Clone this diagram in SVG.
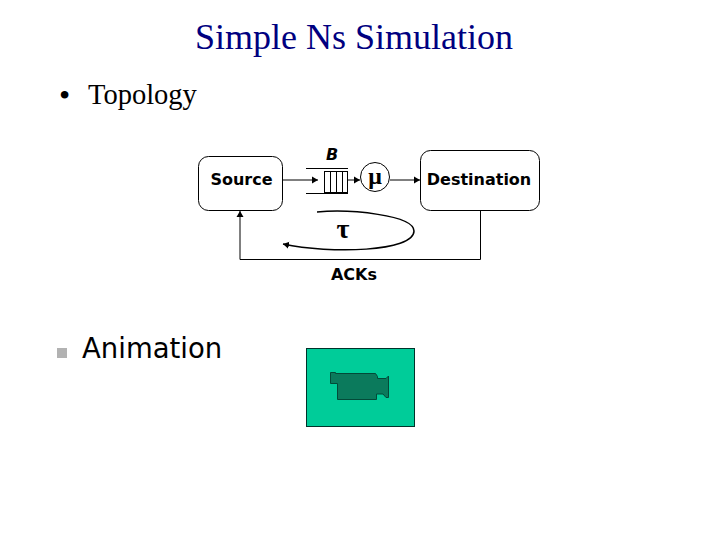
<svg xmlns="http://www.w3.org/2000/svg" width="720" height="540" viewBox="0 0 720 540">
<style>
.s{font-family:"Liberation Serif",serif}
.v{font-family:"DejaVu Sans",sans-serif}
.l{font-family:"DejaVu Sans",sans-serif;font-size:16px;font-weight:bold;fill:#000}
.w{fill:none;stroke:#000;stroke-width:1}
.n{fill:#fff;stroke:#000;stroke-width:1}
</style>
<defs>
<marker id="a" markerUnits="userSpaceOnUse" markerWidth="7" markerHeight="8" refX="6" refY="4" orient="auto"><path d="M0 0.500L6 4L0 7.500Z" fill="#000"/></marker>
</defs>
<rect width="720" height="540" fill="#fff"/>
<text class="s" x="354" y="49" font-size="36" fill="#000080" text-anchor="middle">Simple Ns Simulation</text>
<text class="s" x="59" y="106" font-size="32" fill="#000">•</text>
<text class="s" x="88" y="104" font-size="28.500" fill="#000">Topology</text>
<g id="connectors">
<path class="w" d="M283 180H318" marker-end="url(#a)"/>
<path class="w" d="M348 180H360" marker-end="url(#a)"/>
<path class="w" d="M390 180H420" marker-end="url(#a)"/>
<path class="w" d="M480.500 211V259.500H240V211" marker-end="url(#a)"/>
<path class="w" style="stroke-width:1.500" d="M317 212C350 209 414 215 414 231C414 252 330 254 283 244" marker-end="url(#a)"/>
</g>
<g id="source"><rect class="n" x="198.500" y="156.500" width="84" height="54" rx="10"/><text class="l" x="241.500" y="185" text-anchor="middle">Source</text></g>
<g id="destination"><rect class="n" x="420.500" y="150.500" width="119" height="60" rx="10"/><text class="l" x="479" y="185" text-anchor="middle">Destination</text></g>
<g id="queue">
<path class="w" d="M306 168.500H348M306 193.500H348"/>
<rect class="n" x="324.500" y="171.500" width="23" height="21"/>
<path class="w" d="M330.500 171V192M336.500 171V192M342.500 171V192"/>
<text class="v" x="332" y="160" font-size="16" font-weight="bold" font-style="italic" text-anchor="middle">B</text>
</g>
<g id="server"><circle class="n" cx="375" cy="177" r="14.500"/><text class="s" x="375" y="184" font-size="24" font-weight="bold" text-anchor="middle">μ</text></g>
<g id="delay"><text class="s" x="343" y="238" font-size="28" font-weight="bold" text-anchor="middle">τ</text></g>
<g id="acks"><text class="l" x="354" y="280" text-anchor="middle">ACKs</text></g>
<rect x="57" y="348" width="10" height="10" fill="#b2b2b2"/>
<text class="v" x="82" y="358" font-size="27.500" fill="#000">Animation</text>
<g id="animation">
<rect x="306.500" y="348.500" width="108" height="78" fill="#00cc99" stroke="#00332a"/>
<path d="M330.500 372.500H335.500V373.500H375.500L377.500 376.500V378.500H386L388.500 376V397.500H386L383 394H376.500V399.500H337.500V383.500H330.500Z" fill="#0b7a5c" stroke="#024a38"/>
</g>
</svg>
